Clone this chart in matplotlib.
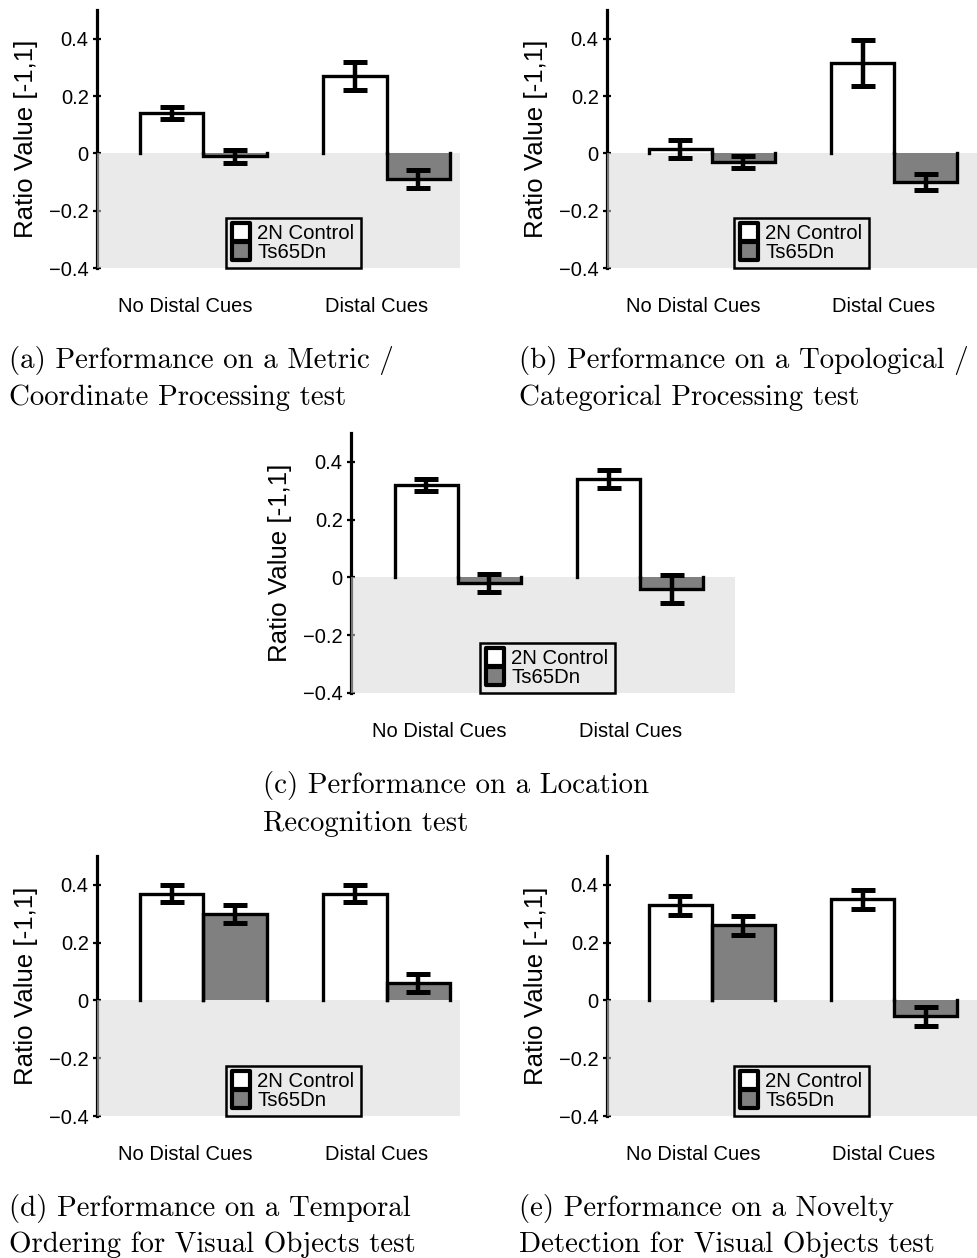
import numpy as np
import matplotlib
matplotlib.use("Agg")
import matplotlib.pyplot as plt
from matplotlib.lines import Line2D
from matplotlib.markers import MarkerStyle

plt.rcParams['font.family'] = ['Liberation Sans', 'DejaVu Sans']

# categories / series
groups = ["No Distal Cues", "Distal Cues"]
series = ["2N Control", "Ts65Dn"]
ytick_vals = [-0.4, -0.2, 0, 0.2, 0.4]
ytick_labels = ["\u22120.4", "\u22120.2", "0", "0.2", "0.4"]

# ratio values [no distal, distal] and their error bars, one set per test
ctrl_a, ctrl_a_err = [0.14, 0.27], [0.02, 0.05]
ts_a, ts_a_err = [-0.01, -0.09], [0.022, 0.031]

ctrl_b, ctrl_b_err = [0.015, 0.315], [0.032, 0.08]
ts_b, ts_b_err = [-0.03, -0.10], [0.02, 0.027]

ctrl_c, ctrl_c_err = [0.32, 0.34], [0.022, 0.032]
ts_c, ts_c_err = [-0.02, -0.04], [0.032, 0.05]

ctrl_d, ctrl_d_err = [0.37, 0.37], [0.03, 0.03]
ts_d, ts_d_err = [0.30, 0.06], [0.032, 0.032]

ctrl_e, ctrl_e_err = [0.33, 0.35], [0.033, 0.032]
ts_e, ts_e_err = [0.26, -0.055], [0.032, 0.032]

captions = [
    ["(a) Performance on a Metric /", "Coordinate Processing test"],
    ["(b) Performance on a Topological /", "Categorical Processing test"],
    ["(c) Performance on a Location", "Recognition test"],
    ["(d) Performance on a Temporal", "Ordering for Visual Objects test"],
    ["(e) Performance on a Novelty", "Detection for Visual Objects test"],
]

W, H = 977, 1258
fig = plt.figure(figsize=(W / 100, H / 100), dpi=100)

# panel layout in pixels: left, top, right, bottom ; x-limits ; caption x, baselines
panels = [
    (ctrl_a, ctrl_a_err, ts_a, ts_a_err, (97, 10, 460, 268), (0.42, 2.40), (9, 368, 405)),
    (ctrl_b, ctrl_b_err, ts_b, ts_b_err, (607, 10, 977, 268), (0.425, 2.455), (519, 368, 405)),
    (ctrl_c, ctrl_c_err, ts_c, ts_c_err, (351, 433, 735, 693), (0.415, 2.52), (263, 793, 831)),
    (ctrl_d, ctrl_d_err, ts_d, ts_d_err, (97, 856, 460, 1116), (0.42, 2.40), (9, 1216, 1252)),
    (ctrl_e, ctrl_e_err, ts_e, ts_e_err, (607, 856, 977, 1116), (0.425, 2.455), (519, 1216, 1252)),
]

x = np.arange(1, len(groups) + 1)
w = 0.345
gray = '#808080'

for (ctrl, ctrl_err, ts, ts_err, rect, xlim, cap), lines in zip(panels, captions):
    l, t, r, b = rect
    ax = fig.add_axes([l / W, 1 - b / H, (r - l) / W, (b - t) / H])
    ax.set_xlim(*xlim)
    ax.set_ylim(-0.4, 0.5)

    # shaded negative region, drawn over the spine so it looks gray there
    ax.axhspan(-0.4, 0, color='#d9d9d9', alpha=0.55, lw=0, zorder=2)

    for vals, errs, fc, off in [(ctrl, ctrl_err, 'white', -w / 2), (ts, ts_err, gray, w / 2)]:
        bars = ax.bar(x + off, vals, w, color=fc, lw=0, zorder=3)
        # outline on three sides (no edge along the baseline)
        for p in bars.patches:
            x0, x1, hgt = p.get_x(), p.get_x() + p.get_width(), p.get_height()
            ax.plot([x0, x0, x1, x1], [0, hgt, hgt, 0], color='k', lw=2.4, zorder=4,
                    solid_joinstyle='miter')
        ax.errorbar(x + off, vals, yerr=errs, fmt='none', ecolor='k', elinewidth=3.2,
                    capsize=8.5, capthick=3.6, zorder=5)

    for s in ['top', 'right', 'bottom']:
        ax.spines[s].set_visible(False)
    ax.spines['left'].set_linewidth(2.3)
    ax.spines['left'].set_zorder(1)
    ax.set_axisbelow(True)

    ax.set_yticks(ytick_vals)
    ax.set_yticklabels(ytick_labels, fontsize=14.5)
    ax.tick_params(axis='y', direction='inout', length=6, width=1.6, pad=3)
    ax.set_xticks(x + np.array([-0.10, -0.055]))
    ax.set_xticklabels(groups, fontsize=14.5)
    ax.tick_params(axis='x', length=0, pad=21)

    ax.set_ylabel("Ratio Value [-1,1]", fontsize=18.6)
    ax.yaxis.set_label_coords(-59 / (r - l), 0.5)

    handles = [Line2D([], [], ls='none', marker=MarkerStyle('s', joinstyle='round'), ms=13.5,
                      mfc=fc, mec='k', mew=3) for fc in ['white', gray]]
    leg = ax.legend(handles, series, loc='lower center', bbox_to_anchor=(1.49, -0.4),
                    bbox_transform=ax.transData, fancybox=False, edgecolor='k',
                    facecolor='none', framealpha=1, fontsize=14.7, handlelength=0.9,
                    handletextpad=0.35, labelspacing=0.0, borderpad=0.3, borderaxespad=0)
    leg.get_frame().set_linewidth(1.8)
    leg.set_zorder(6)

    # caption below each panel
    cx, y1, y2 = cap
    for line, yb in zip(lines, [y1, y2]):
        fig.text(cx / W, 1 - yb / H, line, family='cmr10', fontsize=20.8,
                 ha='left', va='baseline')

plt.savefig("out.png", dpi=100)
